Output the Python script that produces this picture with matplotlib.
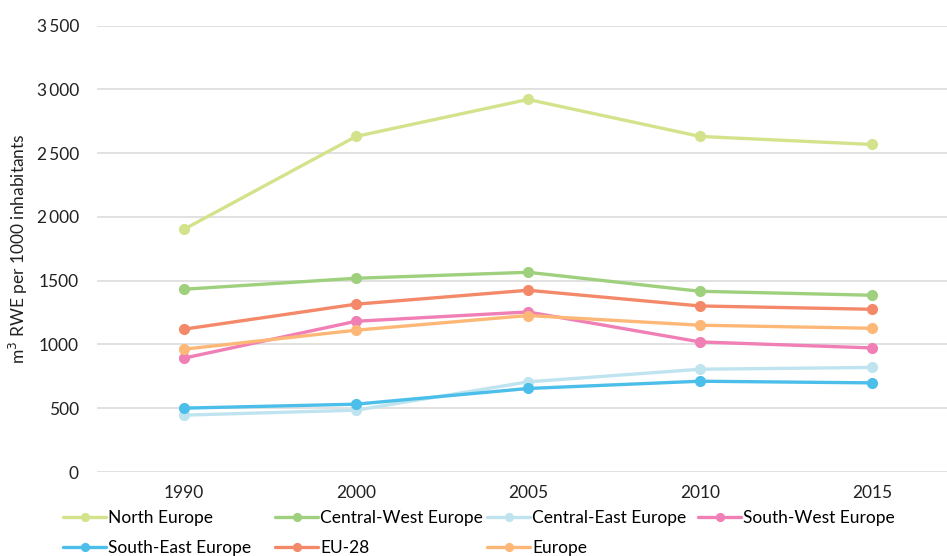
import matplotlib
matplotlib.use("Agg")
import matplotlib.pyplot as plt
from matplotlib.ticker import FuncFormatter

years = ["1990", "2000", "2005", "2010", "2015"]
north_europe = [1903, 2631, 2921, 2631, 2568]
central_west_europe = [1433, 1519, 1566, 1417, 1386]
central_east_europe = [446, 485, 707, 806, 820]
south_west_europe = [893, 1182, 1255, 1020, 973]
south_east_europe = [501, 532, 655, 712, 699]
eu_28 = [1120, 1316, 1425, 1302, 1276]
europe = [963, 1112, 1227, 1151, 1127]

series = [
    ("North Europe", north_europe, "#d3e38c"),
    ("Central-West Europe", central_west_europe, "#9fd07e"),
    ("Central-East Europe", central_east_europe, "#bfe4ef"),
    ("South-West Europe", south_west_europe, "#f07fb6"),
    ("South-East Europe", south_east_europe, "#4bbfea"),
    ("EU-28", eu_28, "#f4896a"),
    ("Europe", europe, "#fdb878"),
]

plt.rcParams["font.family"] = ["Lato", "DejaVu Sans"]
FS = 12.5

fig = plt.figure(figsize=(9.47, 5.56), dpi=100)
ax = fig.add_axes([0.1024, 0.151, 0.8976, 0.803])

x = list(range(len(years)))
handles = {}
for name, vals, col in series:
    (h,) = ax.plot(x, vals, color=col, lw=2.4, marker="o", ms=7,
                   label=name, solid_capstyle="round", zorder=3)
    handles[name] = h

ax.set_ylim(0, 3500)
ax.set_xlim(-0.506, 4.436)
ax.set_yticks(range(0, 3501, 500))
ax.yaxis.set_major_formatter(FuncFormatter(
    lambda v, p: f"{int(v):,}".replace(",", "\u2009") if v >= 2000 else f"{int(v)}"))
ax.set_xticks(x)
ax.set_xticklabels(years)
ax.grid(axis="y", color="#dcdcdc", lw=1.2)
ax.set_axisbelow(True)
for s in ax.spines.values():
    s.set_visible(False)
ax.tick_params(length=0, labelsize=FS, colors="#222222")
ax.tick_params(axis="y", pad=13)
ax.tick_params(axis="x", pad=9)
ax.set_ylabel("m$^3$ RWE per 1000 inhabitants", fontsize=FS, color="#222222", labelpad=5)

# legend: rows of four, columns placed at fixed figure fractions
legend_rows = [["North Europe", "Central-West Europe", "Central-East Europe", "South-West Europe"],
               ["South-East Europe", "EU-28", "Europe"]]
col_x = [0.0665, 0.2904, 0.5143, 0.7371]
row_y = [0.0683, 0.0144]
for r, row in enumerate(legend_rows):
    for c, name in enumerate(row):
        fig.legend([handles[name]], [name], loc="center left",
                   bbox_to_anchor=(col_x[c], row_y[r]), frameon=False, fontsize=FS,
                   handlelength=2.5, handletextpad=0.1, markerscale=0.8,
                   borderaxespad=0, borderpad=0)

fig.savefig("out.png", dpi=100)
